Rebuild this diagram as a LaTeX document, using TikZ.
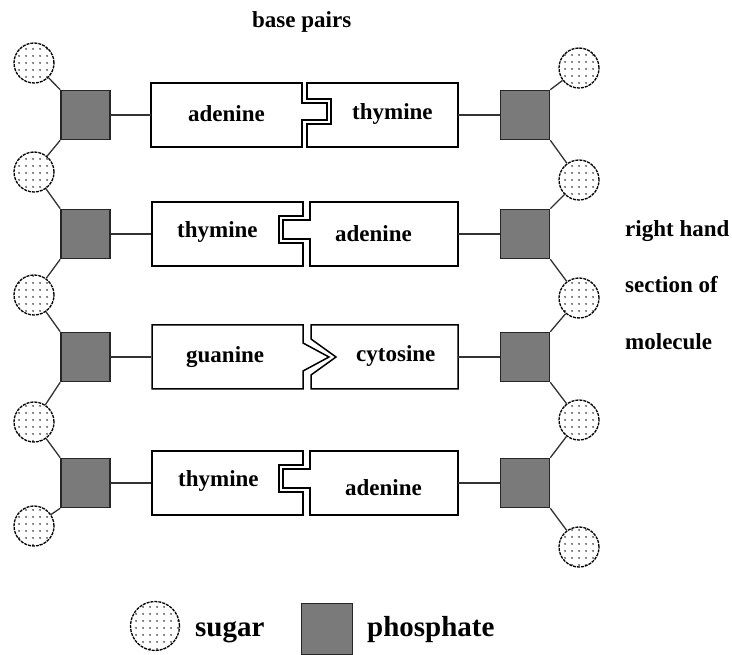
\documentclass[tikz,border=0pt]{standalone}
\usepackage{fontspec}
\setmainfont{Liberation Serif}
\usepackage{tikz}
\usetikzlibrary{patterns.meta}
\usepackage{xcolor}
\definecolor{cphos}{RGB}{122,122,122}
\definecolor{cdots}{RGB}{85,85,85}
\definecolor{cbond}{RGB}{50,50,50}

\begin{document}
\begin{tikzpicture}[x=1pt, y=-1pt,
  sugar/.style={circle, draw, dash pattern=on 3pt off 1pt, line width=1.3pt, minimum size=40pt, inner sep=0pt,
    pattern={Dots[distance=6.5pt, radius=1.1pt]}, pattern color=cdots},
  phos/.style={rectangle, draw=black!85, line width=1.6pt, fill=cphos, minimum size=49pt, inner sep=0pt},
  base/.style={draw, line width=1.5pt, fill=white, line join=miter},
  bond/.style={cbond, line width=1.3pt},
  lab/.style={font=\fontsize{23}{27}\selectfont\bfseries, anchor=base west, inner sep=0pt},
  leg/.style={font=\fontsize{29}{33}\selectfont\bfseries, anchor=base west, inner sep=0pt}]
\useasboundingbox (0,0) rectangle (732,655);
\node[lab] (title) at (252,28) {base pairs};
\begin{scope}[shift={(0,115)}]
\draw[base] (151,-32) -- (302,-32) -- (302,-12) -- (327,-12) -- (327,5) -- (302,5) -- (302,32) -- (151,32) -- cycle;
\draw[base] (307,-32) -- (458,-32) -- (458,32) -- (307,32) -- (307,9) -- (331,9) -- (331,-16) -- (307,-16) -- cycle;
\end{scope}
\begin{scope}[shift={(0,234)}]
\draw[base] (152,-32) -- (303,-32) -- (303,-18) -- (279,-18) -- (279,9) -- (303,9) -- (303,32) -- (152,32) -- cycle;
\draw[base] (310,-32) -- (458,-32) -- (458,32) -- (310,32) -- (310,5) -- (283,5) -- (283,-14) -- (310,-14) -- cycle;
\end{scope}
\begin{scope}[shift={(0,357)}]
\draw[base] (152,-32) -- (303,-32) -- (303,-14) -- (329,0) -- (303,14) -- (303,32) -- (152,32) -- cycle;
\draw[base] (311,-32) -- (458,-32) -- (458,32) -- (311,32) -- (311,18) -- (336,0) -- (311,-18) -- cycle;
\end{scope}
\begin{scope}[shift={(0,483)}]
\draw[base] (152,-32) -- (303,-32) -- (303,-18) -- (279,-18) -- (279,9) -- (303,9) -- (303,32) -- (152,32) -- cycle;
\draw[base] (310,-32) -- (458,-32) -- (458,32) -- (310,32) -- (310,5) -- (283,5) -- (283,-14) -- (310,-14) -- cycle;
\end{scope}
\foreach \n/\x/\y/\txt in {a1/188/122/adenine, t1/352/120/thymine, t2/177/238/thymine, a2/335/242/adenine,
    g3/186/363/guanine, c3/356/362/cytosine, t4/178/486/thymine, a4/345/495/adenine}
  {\node[lab] (\n) at (\x,\y) {\txt};}
\foreach \r/\yc in {1/115,2/234,3/357,4/483} {
  \node[phos] (pl\r) at (85.5,\yc) {};
  \node[phos] (pr\r) at (525,\yc) {};
  \coordinate (bl\r) at (151,\yc);
  \coordinate (br\r) at (458,\yc);
  \draw[bond] (pl\r) -- (bl\r);
  \draw[bond] (pr\r) -- (br\r);
}
\foreach \s/\yl/\yr in {1/63/68,2/172/180,3/295/298,4/422/420,5/526/547} {
  \node[sugar] (sl\s) at (34,\yl) {};
  \node[sugar] (sr\s) at (579,\yr) {};
}
\foreach \r/\n in {1/2,2/3,3/4,4/5} {
  \draw[bond] (sl\r) -- (pl\r.north west);
  \draw[bond] (pl\r.south west) -- (sl\n);
  \draw[bond] (sr\r) -- (pr\r.north east);
  \draw[bond] (pr\r.south east) -- (sr\n);
}
\node[lab] (side1) at (625,237) {right hand};
\node[lab] (side2) at (625,293) {section of};
\node[lab] (side3) at (625,350) {molecule};
\node[sugar, minimum size=49pt] (lsug) at (155,626) {};
\node[leg] (tsug) at (195,636) {sugar};
\node[phos, minimum size=51pt] (lpho) at (327,629) {};
\node[leg] (tpho) at (367,636) {phosphate};
\end{tikzpicture}
\end{document}
